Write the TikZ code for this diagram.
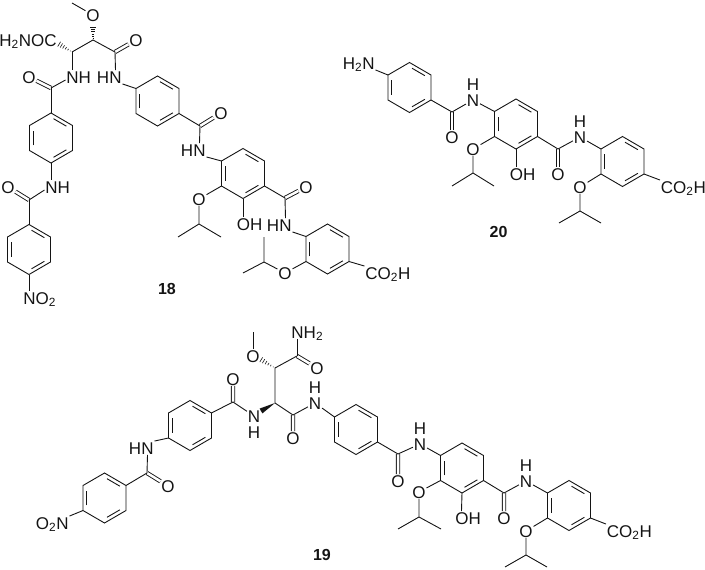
\documentclass[tikz,border=0pt]{standalone}
\usepackage{fontspec}
\setmainfont{Liberation Sans}
\usetikzlibrary{calc}
\tikzset{
    atom/.style={font=\fontsize{17}{17}\selectfont,inner sep=.5pt,text height=12pt,text depth=0pt},
    cpd/.style={font=\fontsize{16}{16}\selectfont\bfseries,inner sep=0pt},
    dbl/.style={double,double distance=2.5pt},
    hashln/.style={line width=.6pt}
}
% ring with its centre at #2,#3 and corners #1a .. #1f, clockwise from the top
\newcommand{\ring}[3]{
    \coordinate (#1) at (#2,#3);
    \coordinate (#1a) at (#2,#3-25);
    \coordinate (#1b) at (#2+21.5,#3-12.5);
    \coordinate (#1c) at (#2+21.5,#3+12.5);
    \coordinate (#1d) at (#2,#3+25);
    \coordinate (#1e) at (#2-21.5,#3+12.5);
    \coordinate (#1f) at (#2-21.5,#3-12.5);
    \draw (#1a) -- (#1b) -- (#1c) -- (#1d) -- (#1e) -- (#1f) -- cycle;
    \draw ($(#1a)!.14!(#1b)!.17!(#1)$) -- ($(#1a)!.86!(#1b)!.17!(#1)$);
    \draw ($(#1c)!.14!(#1d)!.17!(#1)$) -- ($(#1c)!.86!(#1d)!.17!(#1)$);
    \draw ($(#1e)!.14!(#1f)!.17!(#1)$) -- ($(#1e)!.86!(#1f)!.17!(#1)$);
}
\newcommand{\hashbond}[2]{
    \foreach \t in {.12,.28,.44,.6,.76,.92}
        \draw[hashln] ($(#1)!\t!(#2)!{\t*3pt}!90:(#2)$) -- ($(#1)!\t!(#2)!{\t*3pt}!-90:(#2)$);
}
\begin{document}
\begin{tikzpicture}[x=1pt,y=-1pt,line width=.9pt,color=black!92]
    \useasboundingbox (0,0) rectangle (705,570);

    % 18
    \ring{r1}{29}{249.5}
    \ring{r2}{51}{138}
    \ring{r3}{157.5}{101}
    \ring{r4}{243}{173.5}
    \ring{r5}{327.5}{249}
    \node[atom] (o1) at (93,15) {O};
    \node[atom] (o2) at (136,40) {O};
    \node[atom] (o3) at (29,77) {O};
    \node[atom] (o4) at (8,187) {O};
    \node[atom] (o5) at (221,113) {O};
    \node[atom] (o6) at (199,199) {O};
    \node[atom] (o7) at (306,187) {O};
    \node[atom] (o8) at (285,273) {O};
    \node[atom,anchor=east] (amide1) at (57.5,40) {H\textsubscript{2}NOC};
    \node[atom,anchor=east] (n1) at (122.5,77) {HN};
    \node[atom,anchor=west] (n2) at (65.5,77) {NH};
    \node[atom,anchor=west] (n3) at (44.5,187) {NH};
    \node[atom,anchor=west] (no1) at (22.5,298) {NO\textsubscript{2}};
    \node[atom,anchor=east] (n5) at (206.5,150) {HN};
    \node[atom,anchor=east] (n6) at (292.5,225) {HN};
    \node[atom,anchor=west] (oh1) at (236,224) {OH};
    \node[atom,anchor=west] (acid1) at (364.5,273) {CO\textsubscript{2}H};
    \node[cpd] (lab18) at (167,289) {18};
    \coordinate (m1) at (72,3);
    \coordinate (c2) at (93,40);
    \coordinate (c3) at (115,52);
    \coordinate (c4) at (72,52);
    \coordinate (c5) at (51,88);
    \coordinate (c6) at (29,200);
    \coordinate (c7) at (200,126);
    \coordinate (c8) at (199,224);
    \coordinate (m2) at (178,237);
    \coordinate (m3) at (221,237);
    \coordinate (c11) at (285,198);
    \coordinate (c12) at (264,262);
    \coordinate (m4) at (264,237);
    \coordinate (m5) at (243,273);
    \coordinate (h1) at (93,26);
    \coordinate (h2) at (58,43.5);
    \draw[dbl] (c3) -- (o2) (c5) -- (o3) (c6) -- (o4) (c7) -- (o5) (c11) -- (o7);
    \draw (m1) -- (o1);
    \hashbond{c2}{h1}
    \hashbond{c4}{h2}
    \draw (c4) -- (c2) -- (c3);
    \draw (c3) -- ([xshift=-7pt]n1.north east);
    \draw (n1.south east) -- (r3f);
    \draw (c4) -- ([xshift=6.5pt]n2.north west);
    \draw ([yshift=-3pt]n2.west) -- (c5);
    \draw (c5) -- (r2a);
    \draw (r2d) -- ([xshift=6.5pt]n3.north west);
    \draw ([yshift=-3pt]n3.west) -- (c6);
    \draw (c6) -- (r1a);
    \draw (r1d) -- ([xshift=6.5pt]no1.north west);
    \draw (r3c) -- (c7);
    \draw (c7) -- ([xshift=-7pt]n5.north east);
    \draw (n5.south east) -- (r4f);
    \draw (r4e) -- (o6) -- (c8) (m2) -- (c8) -- (m3);
    \draw (r4d) -- ([xshift=7pt]oh1.north west);
    \draw (r4c) -- (c11);
    \draw (c11) -- ([xshift=-7pt]n6.north east);
    \draw (n6.south east) -- (r5f);
    \draw (r5e) -- (o8) -- (c12) (m4) -- (c12) -- (m5);
    \draw (r5c) -- (acid1.north west);

    % 20
    \ring{r6}{409.5}{87.5}
    \ring{r7}{516}{124}
    \ring{r8}{622.5}{161.5}
    \node[atom,anchor=east] (n7) at (375.5,63) {H\textsubscript{2}N};
    \node[atom] (o9) at (452,137) {O};
    \node[atom] (n8) at (473,100) {N};
    \node[atom] (h8) at (473,84) {H};
    \node[atom] (o10) at (473,149) {O};
    \node[atom,anchor=west] (oh2) at (509,174) {OH};
    \node[atom] (o11) at (558,174) {O};
    \node[atom] (n9) at (580,137) {N};
    \node[atom] (h9) at (580,121) {H};
    \node[atom] (o12) at (580,187) {O};
    \node[atom,anchor=west] (acid2) at (660,187) {CO\textsubscript{2}H};
    \node[cpd] (lab20) at (498.5,232) {20};
    \coordinate (c13) at (452,112);
    \coordinate (c14) at (473,173);
    \coordinate (m6) at (452,186);
    \coordinate (m7) at (494,186);
    \coordinate (c15) at (558,149);
    \coordinate (c16) at (580,211);
    \coordinate (m8) at (559,223);
    \coordinate (m9) at (601,223);
    \draw[dbl] (c13) -- (o9) (c15) -- (o11);
    \draw (n7.south east) -- (r6f);
    \draw (r6c) -- (c13) -- (n8) -- (r7f);
    \draw (r7e) -- (o10) -- (c14) (m6) -- (c14) -- (m7);
    \draw (r7d) -- ([xshift=7pt]oh2.north west);
    \draw (r7c) -- (c15) -- (n9) -- (r8f);
    \draw (r8e) -- (o12) -- (c16) (m8) -- (c16) -- (m9);
    \draw (r8c) -- (acid2.north west);

    % 19
    \ring{r9}{104.5}{498}
    \ring{r10}{190}{425.5}
    \ring{r11}{356}{429.5}
    \ring{r12}{462}{468}
    \ring{r13}{569}{505.5}
    \node[atom,anchor=east] (no2) at (69.5,523) {O\textsubscript{2}N};
    \node[atom] (o13) at (168,486) {O};
    \node[atom,anchor=east] (n11) at (154.5,448) {HN};
    \node[atom] (o14) at (233,379) {O};
    \node[atom] (n12) at (254,416) {N};
    \node[atom] (h12) at (254,432) {H};
    \node[atom] (o15) at (253,356) {O};
    \node[atom] (o16) at (317,368) {O};
    \node[atom,anchor=west] (n13) at (290.5,332) {NH\textsubscript{2}};
    \node[atom] (o17) at (293,438) {O};
    \node[atom] (n14) at (315,403) {N};
    \node[atom] (h14) at (315,387) {H};
    \node[atom] (o18) at (398,481) {O};
    \node[atom] (n15) at (420,444) {N};
    \node[atom] (h15) at (420,428) {H};
    \node[atom] (o19) at (419,492) {O};
    \node[atom,anchor=west] (oh3) at (454.5,518) {OH};
    \node[atom] (o20) at (504,518) {O};
    \node[atom] (n16) at (526,481) {N};
    \node[atom] (h16) at (526,465) {H};
    \node[atom] (o21) at (526,531) {O};
    \node[atom,anchor=west] (acid3) at (606,531) {CO\textsubscript{2}H};
    \node[cpd] (lab19) at (322,554.5) {19};
    \coordinate (c17) at (147,473);
    \coordinate (c18) at (233,402);
    \coordinate (c19) at (275,403);
    \coordinate (c20) at (275,368);
    \coordinate (m10) at (253,332);
    \coordinate (c22) at (297,356);
    \coordinate (c23) at (293,415);
    \coordinate (c24) at (398,454);
    \coordinate (c25) at (419,517);
    \coordinate (m11) at (398,529);
    \coordinate (m12) at (441,529);
    \coordinate (c26) at (504,493);
    \coordinate (c27) at (526,555);
    \coordinate (m13) at (505,567);
    \coordinate (m14) at (547,567);
    \coordinate (h3) at (260,359);
    \coordinate (w1) at (261,411);
    \draw[dbl] (c17) -- (o13) (c18) -- (o14) (c22) -- (o16) (c23) -- (o17) (c24) -- (o18) (c26) -- (o20);
    \draw (r9e) -- (no2.north east);
    \draw (r9b) -- (c17);
    \draw (c17) -- ([xshift=-7pt]n11.south east);
    \draw (n11.north east) -- (r10e);
    \draw (r10b) -- (c18) -- (n12);
    \fill (c19) -- ($(w1)!2.8pt!90:(c19)$) -- ($(w1)!2.8pt!-90:(c19)$) -- cycle;
    \draw (n12) -- (w1);
    \draw (c19) -- (c20) -- (c22);
    \hashbond{c20}{h3}
    \draw (o15) -- (m10);
    \draw (c22) -- ([xshift=6.5pt]n13.south west);
    \draw (c19) -- (c23) -- (n14) -- (r11f);
    \draw (r11c) -- (c24) -- (n15) -- (r12f);
    \draw (r12e) -- (o19) -- (c25) (m11) -- (c25) -- (m12);
    \draw (r12d) -- ([xshift=7pt]oh3.north west);
    \draw (r12c) -- (c26) -- (n16) -- (r13f);
    \draw (r13e) -- (o21) -- (c27) (m13) -- (c27) -- (m14);
    \draw (r13c) -- (acid3.north west);
\end{tikzpicture}
\end{document}
